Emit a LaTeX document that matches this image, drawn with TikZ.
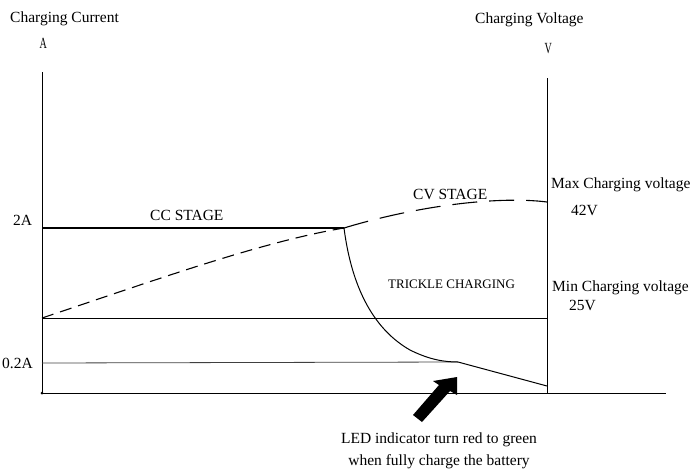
\documentclass[tikz,border=0pt]{standalone}
\usepackage{fontspec}
\setmainfont{Liberation Serif}
\usepackage{graphicx}
\begin{document}
\begin{tikzpicture}[x=1pt,y=-1pt,
  lbl/.style={inner sep=0pt,anchor=base west,font=\fontsize{15.5}{18}\selectfont},
  lblc/.style={inner sep=0pt,anchor=base,font=\fontsize{15.5}{18}\selectfont},
  small/.style={inner sep=0pt,anchor=base west,font=\fontsize{13}{15}\selectfont},
  ax/.style={line width=0.9pt,black},
  thin/.style={line width=0.8pt,black},
  dshA/.style={line width=1.1pt,dash pattern=on 12pt off 7pt},
  dshB/.style={line width=1.1pt,dash pattern=on 25pt off 12pt}]
\useasboundingbox (0,0) rectangle (697,472);
% coordinates
\coordinate (O) at (42,393);
\coordinate (Atop) at (42,72);
\coordinate (Vtop) at (547,78);
\coordinate (Vbot) at (547,393);
\coordinate (Xend) at (666,393);
\coordinate (I2l) at (42,228);
\coordinate (K) at (344,228);
\coordinate (Ml) at (42,318);
\coordinate (Mr) at (547,318);
\coordinate (Sl) at (42,363);
\coordinate (Knee) at (458,362);
\coordinate (End) at (547,386);
\coordinate (Vmax) at (547,202);
% axes
\draw[ax] (Atop) -- (O) -- (Xend);
\draw[ax] (Vtop) -- (Vbot);
\fill (O) circle (1.5pt);
% horizontal lines
\draw[line width=1.2pt] (I2l) -- (K);
\draw[thin] (Ml) -- (Mr);
\draw[thin,black!75] (Sl) -- (Knee);
% dashed voltage curve
\draw[dshA] (Ml) .. controls (150,282) and (260,242) .. (K);
\draw[dshB] (K) .. controls (420,205) and (500,196) .. (Vmax);
% current curve
\draw[line width=1pt] (K) .. controls (352,290) and (375,330) .. (410,350)
  .. controls (430,360) and (445,362) .. (Knee) -- (End);
% arrow
\fill (413,415) -- (439,385) -- (433,381) -- (457,377) -- (457,395) -- (450,391) -- (422,422) -- cycle;
% labels
\node[lbl] (tcc) at (10,22) {Charging Current};
\node[lbl] (tA) at (39.5,48) {\scalebox{0.65}[1]{A}};
\node[lbl] (tcv) at (475,23) {Charging Voltage};
\node[lbl] (tV) at (544.5,53) {\scalebox{0.65}[1]{V}};
\node[lbl] (t2A) at (13,225) {2A};
\node[lbl] (tccs) at (150,220.5) {CC STAGE};
\node[lbl,fill=white,inner xsep=3pt] (tcvs) at (410,199) {CV STAGE};
\node[lbl] (tmax) at (551,188) {Max Charging voltage};
\node[lbl] (t42) at (571,215) {42V};
\node[small] (ttr) at (388,288) {TRICKLE CHARGING};
\node[lbl] (tmin) at (552,291) {Min Charging voltage};
\node[lbl] (t25) at (569,310) {25V};
\node[lbl] (t02) at (2,368) {0.2A};
\node[lblc] (led1) at (439,443) {LED indicator turn red to green};
\node[lblc] (led2) at (439,465) {when fully charge the battery};
\end{tikzpicture}
\end{document}
